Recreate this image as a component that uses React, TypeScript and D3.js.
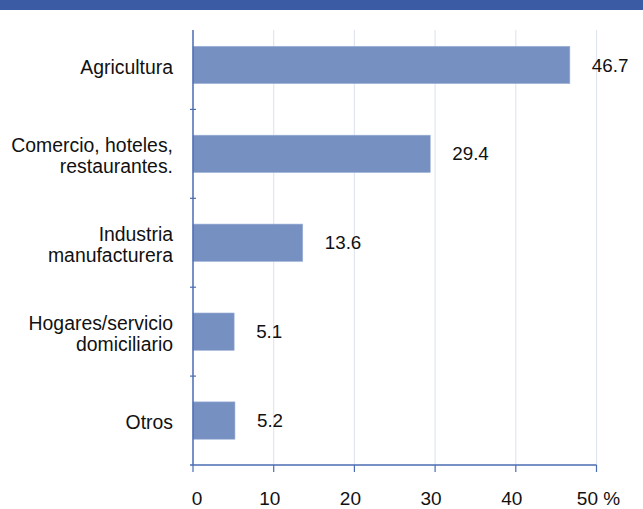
import React from "react";
import * as d3 from "d3";

const categories: string[][] = [
  ["Agricultura"],
  ["Comercio, hoteles,", "restaurantes."],
  ["Industria", "manufacturera"],
  ["Hogares/servicio", "domiciliario"],
  ["Otros"],
];
const values: number[] = [46.7, 29.4, 13.6, 5.1, 5.2];
const valueLabels: string[] = ["46.7", "29.4", "13.6", "5.1", "5.2"];
const xTicks: number[] = [0, 10, 20, 30, 40, 50];
const xTickLabels: string[] = ["0", "10", "20", "30", "40", "50 %"];

const W = 643;
const H = 509;
const FONT = "'Liberation Sans', Arial, Helvetica, sans-serif";
const BAR = "#7690c2";
const AXIS = "#4a6cb3";
const GRID = "#dfe6f2";

export default function App() {
  const x = d3.scaleLinear().domain([0, 50]).range([193, 596.5]);
  const ids = categories.map((_, i) => String(i));
  const y = d3
    .scaleBand<string>()
    .domain(ids)
    .range([20.5, 465])
    .paddingInner(0.58)
    .paddingOuter(0.29);
  const plotTop = 30;
  const plotBottom = 465;
  const step = y.step();

  return (
    <svg
      width={W}
      height={H}
      style={{ position: "absolute", left: 0, top: 0, background: "#fff" }}
      fontFamily={FONT}
    >
      <rect x={0} y={0} width={W} height={10} fill="#3b5ca4" />
      {xTicks.slice(1).map((t) => (
        <line
          key={"g" + t}
          x1={x(t)}
          x2={x(t)}
          y1={plotTop}
          y2={plotBottom}
          stroke={GRID}
          strokeWidth={1.2}
        />
      ))}
      {values.map((v, i) => (
        <rect
          key={"b" + i}
          x={x(0)}
          y={y(ids[i])!}
          width={x(v) - x(0)}
          height={y.bandwidth()}
          fill={BAR}
          stroke="#9fb2d8"
          strokeWidth={0.6}
        />
      ))}
      {values.map((v, i) => (
        <text
          key={"v" + i}
          x={x(v) + 22}
          y={y(ids[i])! + y.bandwidth() / 2}
          dy="0.35em"
          fontSize={18.8}
          fill="#111"
        >
          {valueLabels[i]}
        </text>
      ))}
      <line x1={x(0)} x2={x(0)} y1={plotTop} y2={plotBottom} stroke={AXIS} strokeWidth={1.5} />
      {ids.slice(1).map((id) => (
        <line
          key={"yt" + id}
          x1={x(0) - 3}
          x2={x(0) + 3}
          y1={y(id)! - (step - y.bandwidth()) / 2}
          y2={y(id)! - (step - y.bandwidth()) / 2}
          stroke={AXIS}
          strokeWidth={1.2}
        />
      ))}
      <line x1={x(0) - 3} x2={x(50)} y1={plotBottom} y2={plotBottom} stroke={AXIS} strokeWidth={1.5} />
      {xTicks.map((t) => (
        <line
          key={"xt" + t}
          x1={x(t)}
          x2={x(t)}
          y1={plotBottom}
          y2={plotBottom + 7}
          stroke={AXIS}
          strokeWidth={1.2}
        />
      ))}
      {xTicks.map((t, i) => (
        <text
          key={"xl" + t}
          x={x(t) + (i === 0 ? 4 : i === xTicks.length - 1 ? 2 : -4)}
          y={505}
          textAnchor="middle"
          fontSize={19}
          fill="#111"
        >
          {xTickLabels[i]}
        </text>
      ))}
      {categories.map((lines, i) => {
        const cy = y(ids[i])! + y.bandwidth() / 2 + 2;
        const lh = 21.5;
        const start = cy - ((lines.length - 1) * lh) / 2;
        return (
          <text key={"c" + i} textAnchor="end" fontSize={19.4} fill="#111">
            {lines.map((l, j) => (
              <tspan key={j} x={173} y={start + j * lh} dy="0.35em">
                {l}
              </tspan>
            ))}
          </text>
        );
      })}
    </svg>
  );
}
